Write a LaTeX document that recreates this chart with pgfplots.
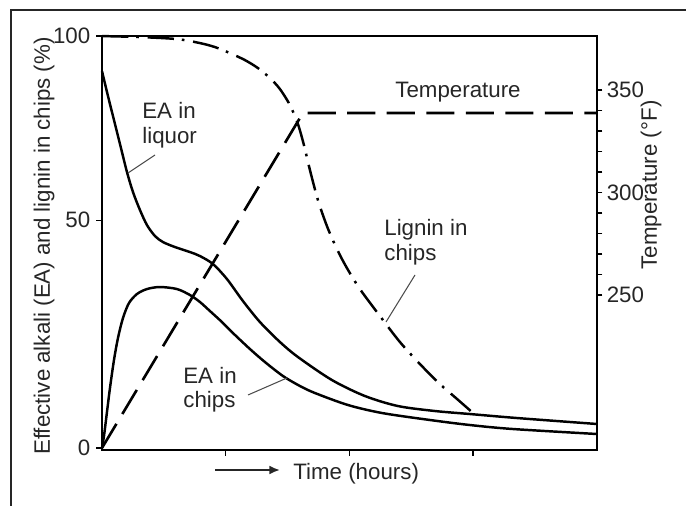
\documentclass[border=0pt]{standalone}
\usepackage{fontspec}
\setmainfont{Liberation Sans}
\usepackage{pgfplots}
\pgfplotsset{compat=1.18}
\usetikzlibrary{arrows.meta}

\pgfplotsset{
  common/.style={
    at={(2.04cm,1.12cm)}, anchor=south west,
    scale only axis, width=9.9cm, height=8.28cm,
    xmin=0, xmax=4, clip=false,
    tick align=outside,
    major tick length=0.11cm, minor tick length=0.11cm,
    tick style={line width=0.8pt, black},
    ticklabel style={font=\fontsize{12.7}{15}\selectfont, text=black!85},
  }
}

\begin{document}
\begin{tikzpicture}[x=0.02cm, y=0.02cm, font=\fontsize{12.7}{15}\selectfont]
\useasboundingbox (0,0) rectangle (686,506);
\draw[line width=1.4pt, black!85] (11,0) -- (11,496) -- (686,496);

% Left axis: effective alkali and lignin (%)
\begin{axis}[common,
  ymin=-0.485, ymax=100,
  axis line style={line width=1.5pt},
  xtick={1,2,3}, xticklabels={},
  ytick={0,55.3,100}, yticklabels={0,50,100},
  xtick pos=left, ytick pos=left,
]
% EA in liquor
\addplot[black, line width=1.4pt, smooth, tension=0.5] coordinates {
(0,91.50) (0.0485,85.44) (0.1051,78.64) (0.1535,72.82) (0.2020,66.99)
(0.2505,62.14) (0.3071,57.77) (0.3636,54.13) (0.4283,51.46) (0.4929,50.00)
(0.5899,48.79) (0.7111,47.57) (0.7919,46.60) (0.8970,44.66) (1.0101,41.02)
(1.1394,35.68) (1.2768,30.58) (1.4384,25.73) (1.5838,22.09) (1.8586,16.50)
(2.1253,12.62) (2.3919,10.19) (2.6909,8.98) (2.9737,8.25) (3.3535,7.28) (4.0,5.83)
};
% EA in chips
\addplot[black, line width=1.4pt, smooth, tension=0.5] coordinates {
(0,0) (0.0162,2.91) (0.0404,8.74) (0.0646,14.56) (0.0970,21.36) (0.1293,26.70)
(0.1697,31.55) (0.2182,35.19) (0.2828,37.38) (0.3636,38.59) (0.4687,39.08)
(0.6061,38.59) (0.7111,37.14) (0.7919,35.44) (0.8727,33.25) (0.9697,30.58)
(1.0586,27.91) (1.1960,24.03) (1.3172,20.87) (1.4626,17.48) (1.6000,15.05)
(1.7212,13.35) (1.9879,10.44) (2.2626,8.50) (2.6505,6.80) (2.9737,5.58)
(3.3212,4.61) (4.0,3.40)
};
% Lignin in chips
\addplot[black, line width=1.4pt, smooth, tension=0.5,
  dash pattern=on 15pt off 4.5pt on 1.5pt off 5pt] coordinates {
(0,100) (0.3071,99.76) (0.6061,99.27) (0.7919,98.30) (0.9131,97.33)
(1.0343,95.87) (1.1556,94.17) (1.2606,92.23) (1.3576,89.81) (1.4384,87.14)
(1.5192,83.25) (1.5838,78.64) (1.6323,73.54) (1.6808,67.48) (1.7455,60.19)
(1.8182,53.88) (1.8990,48.30) (1.9798,43.69) (2.0848,38.59) (2.2465,32.04)
(2.4081,25.73) (2.5697,20.39) (2.7313,15.53) (2.8606,12.14) (2.9899,8.74)
};
\end{axis}

% Right axis: temperature (F)
\begin{axis}[common,
  ymin=174.39, ymax=376.34,
  axis x line=none, axis y line*=right,
  axis line style={-, line width=1.5pt},
  ytick={250,300,350}, yticklabels={250,300,350},
  minor ytick={260,270,280,290,310,320,330,340},
  yticklabel style={xshift=-1pt},
]
\addplot[black, line width=1.5pt, dash pattern=on 16pt off 6.5pt] coordinates {
(0,175.4) (1.624,338.8) (4.0,338.8)
};
\end{axis}

% Axis titles
\node[rotate=90, text=black!85] at (44,260) {Effective alkali (EA) and lignin in chips (\%)};
\node[rotate=90, text=black!85] at (651,321) {Temperature (°F)};
\draw[-{Latex[length=6pt,width=5pt]}, line width=1.1pt, black!85] (215,36) -- (280,36);
\node[anchor=base west, inner sep=0, text=black!85] at (293,26) {Time (hours)};

% Annotations
\node[anchor=base west, inner sep=0, text=black!85] at (142,387) {EA in};
\node[anchor=base west, inner sep=0, text=black!85] at (142,362) {liquor};
\draw[line width=0.6pt, black!70] (155,351) -- (128,333);

\node[anchor=base west, inner sep=0, text=black!85] at (395,408) {Temperature};

\node[anchor=base west, inner sep=0, text=black!85] at (384,270) {Lignin in};
\node[anchor=base west, inner sep=0, text=black!85] at (384,245) {chips};
\draw[line width=0.6pt, black!70] (415,231) -- (386,184);

\node[anchor=base west, inner sep=0, text=black!85] at (183,122) {EA in};
\node[anchor=base west, inner sep=0, text=black!85] at (183,98) {chips};
\draw[line width=0.6pt, black!70] (248,111) -- (287,128);
\end{tikzpicture}
\end{document}
